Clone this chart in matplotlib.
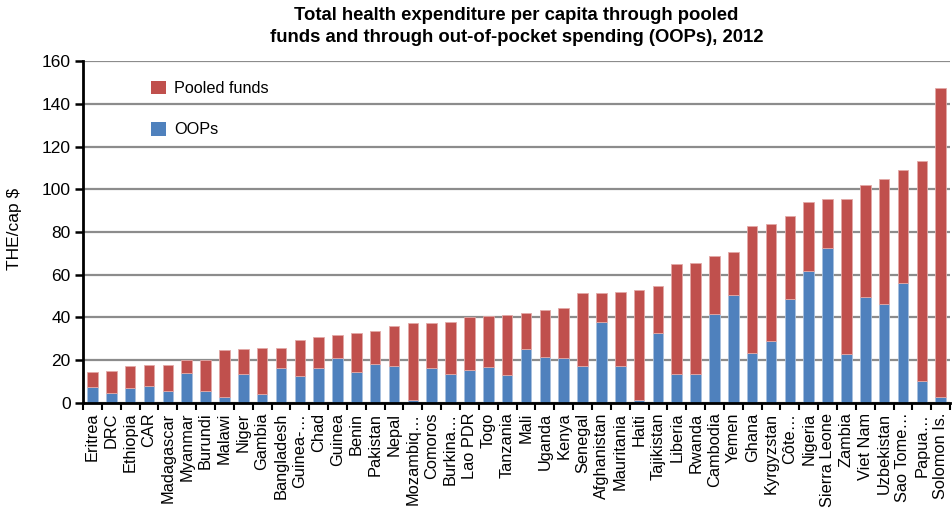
import matplotlib
matplotlib.use("Agg")

import numpy as np
import matplotlib.pyplot as plt
from matplotlib.patches import Patch

# Данные
countries = ["Eritrea", "DRC", "Ethiopia", "CAR", "Madagascar", "Myanmar", "Burundi",
             "Malawi", "Niger", "Gambia", "Bangladesh", "Guinea-…", "Chad", "Guinea",
             "Benin", "Pakistan", "Nepal", "Mozambiq…", "Comoros", "Burkina…", "Lao PDR",
             "Togo", "Tanzania", "Mali", "Uganda", "Kenya", "Senegal", "Afghanistan",
             "Mauritania", "Haiti", "Tajikistan", "Liberia", "Rwanda", "Cambodia", "Yemen",
             "Ghana", "Kyrgyzstan", "Côte…", "Nigeria", "Sierra Leone", "Zambia", "Viet Nam",
             "Uzbekistan", "Sao Tome…", "Papua…", "Solomon Is."]
total = [14.6, 15.1, 17.4, 17.6, 18.0, 20.0, 19.9, 24.6, 25.4, 25.6, 25.9, 29.6, 31.0, 31.8,
         32.9, 33.6, 35.8, 37.3, 37.6, 37.8, 40.2, 40.8, 41.3, 42.0, 43.5, 44.5, 51.3, 51.5,
         51.8, 52.9, 54.9, 65.0, 65.6, 69.0, 70.8, 82.7, 83.8, 87.5, 93.9, 95.6, 95.6, 102.0,
         105.0, 108.8, 113.4, 147.2]
oop = [7.7, 4.7, 7.1, 8.0, 5.6, 13.8, 5.5, 3.0, 13.5, 4.1, 16.5, 12.7, 16.5, 21.2,
       14.6, 18.2, 17.4, 1.6, 16.5, 13.6, 15.4, 16.6, 13.0, 25.4, 21.5, 21.2, 17.4, 38.0,
       17.4, 1.2, 32.8, 13.4, 13.4, 41.6, 50.5, 23.4, 29.0, 48.8, 61.6, 72.5, 22.8, 49.7,
       46.3, 56.0, 10.3, 2.8]
pooled = np.array(total) - np.array(oop)

red = "#C0504D"
blue = "#4F81BD"
font = ["Liberation Sans", "DejaVu Sans"]
plt.rcParams['font.family'] = font

fig = plt.figure(figsize=(9.52, 5.11), dpi=100)
ax = fig.add_axes([0.0872, 0.2114, 0.9108, 0.6692])

x = np.arange(len(countries))
ax.bar(x, oop, width=0.56, color=blue, edgecolor="#A7C0DE", linewidth=0.6, zorder=3)
ax.bar(x, pooled, bottom=oop, width=0.56, color=red, edgecolor="#E3A9A7", linewidth=0.6, zorder=3)

ax.set_xlim(-0.5, len(countries) - 0.5)
ax.set_ylim(0, 160)
ax.set_yticks(np.arange(0, 161, 20))
ax.yaxis.grid(True, color="#8C8C8C", linewidth=1.6, zorder=0)

# подписи по центру, риски между столбцами
ax.set_xticks(x)
ax.set_xticklabels(countries, rotation=90, fontsize=11.8)
ax.tick_params(axis="x", length=0, pad=7)
ax.set_xticks(np.arange(-0.5, len(countries)), minor=True)
ax.tick_params(axis="x", which="minor", length=5, width=1.5, direction="out")
ax.tick_params(axis="y", length=6, width=1.8, direction="out", labelsize=12.5, pad=3)

for s in ["top", "right"]:
    ax.spines[s].set_visible(False)
for s in ["left", "bottom"]:
    ax.spines[s].set_linewidth(2)
    ax.spines[s].set_zorder(4)

ax.set_ylabel("THE/cap $", fontsize=12.5)
ax.yaxis.set_label_coords(-0.07, 0.51)
ax.set_title("Total health expenditure per capita through pooled\n"
             "funds and through out-of-pocket spending (OOPs), 2012",
             fontsize=13.3, fontweight="bold", pad=14, linespacing=1.35)

handles = [Patch(facecolor=red, label="Pooled funds"), Patch(facecolor=blue, label="OOPs")]
ax.legend(handles=handles, loc="upper left", bbox_to_anchor=(0.062, 0.985), frameon=False,
          fontsize=11.7, handlelength=0.9, handleheight=0.9, labelspacing=1.6, handletextpad=0.5)

fig.savefig("out.png", dpi=100)
